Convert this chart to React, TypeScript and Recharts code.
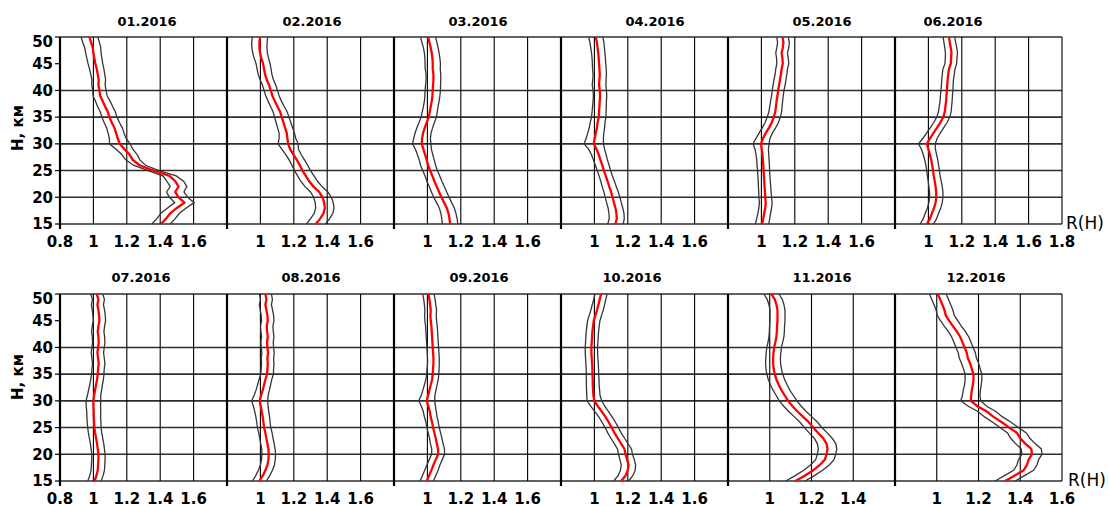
import { LineChart, Line, XAxis, YAxis, CartesianGrid, ReferenceLine } from "recharts";

// altitude levels, km (top to bottom)
const HEIGHTS = [
  50, 49, 48, 47, 46, 45, 44, 43, 42, 41, 40, 39, 38, 37, 36, 35, 34, 33,
  32, 31, 30, 29, 28, 27, 26, 25, 24, 23, 22, 21, 20, 19, 18, 17, 16, 15,
];
const MONTHS = [
  "01.2016", "02.2016", "03.2016", "04.2016", "05.2016", "06.2016",
  "07.2016", "08.2016", "09.2016", "10.2016", "11.2016", "12.2016",
];
const H_TICKS = [15, 20, 25, 30, 35, 40, 45, 50];
const R_TICKS_WIDE = [0.8, 1, 1.2, 1.4, 1.6, 1.8];
const R_TICKS_NARROW = [0.8, 1, 1.2, 1.4, 1.6];

// monthly mean R(H), 50 km -> 15 km
const m01 = [0.976, 0.986, 0.996, 1.0, 1.006, 1.012, 1.02, 1.026, 1.032, 1.03, 1.036, 1.04, 1.056, 1.07, 1.086, 1.096, 1.11, 1.126, 1.136, 1.146, 1.158, 1.186, 1.216, 1.236, 1.276, 1.36, 1.456, 1.49, 1.51, 1.49, 1.51, 1.545, 1.5, 1.46, 1.435, 1.405];
const m02 = [0.998, 0.994, 0.994, 0.998, 1.006, 1.016, 1.022, 1.028, 1.038, 1.052, 1.062, 1.072, 1.086, 1.102, 1.118, 1.128, 1.138, 1.148, 1.158, 1.162, 1.166, 1.178, 1.198, 1.218, 1.236, 1.252, 1.272, 1.292, 1.318, 1.352, 1.372, 1.382, 1.386, 1.378, 1.358, 1.332];
const m03 = [1.004, 1.012, 1.02, 1.026, 1.03, 1.032, 1.032, 1.036, 1.036, 1.034, 1.032, 1.03, 1.026, 1.02, 1.014, 1.008, 0.996, 0.984, 0.974, 0.968, 0.966, 0.976, 0.986, 0.996, 1.004, 1.016, 1.03, 1.042, 1.056, 1.07, 1.084, 1.1, 1.116, 1.126, 1.132, 1.136];
const m04 = [1.008, 1.015, 1.019, 1.023, 1.026, 1.028, 1.03, 1.032, 1.03, 1.028, 1.032, 1.034, 1.032, 1.03, 1.028, 1.026, 1.019, 1.015, 1.008, 1.002, 0.996, 1.013, 1.026, 1.036, 1.047, 1.057, 1.068, 1.079, 1.089, 1.1, 1.109, 1.117, 1.126, 1.132, 1.134, 1.126];
const m05 = [1.126, 1.132, 1.128, 1.121, 1.126, 1.128, 1.121, 1.117, 1.111, 1.106, 1.1, 1.096, 1.091, 1.087, 1.083, 1.074, 1.062, 1.045, 1.026, 1.009, 0.998, 1.002, 1.006, 1.009, 1.011, 1.013, 1.015, 1.017, 1.019, 1.021, 1.023, 1.026, 1.023, 1.017, 1.011, 1.004];
const m06 = [1.123, 1.128, 1.134, 1.138, 1.136, 1.134, 1.123, 1.119, 1.115, 1.113, 1.111, 1.108, 1.106, 1.102, 1.098, 1.089, 1.072, 1.051, 1.03, 1.009, 0.991, 1.0, 1.009, 1.017, 1.023, 1.028, 1.032, 1.038, 1.043, 1.047, 1.047, 1.043, 1.034, 1.021, 1.009, 0.991];
const m07 = [1.02, 1.03, 1.024, 1.03, 1.034, 1.036, 1.03, 1.026, 1.03, 1.032, 1.028, 1.024, 1.028, 1.032, 1.028, 1.026, 1.022, 1.016, 1.01, 1.004, 1.0, 1.0, 1.002, 1.002, 1.004, 1.006, 1.01, 1.016, 1.022, 1.026, 1.03, 1.03, 1.028, 1.026, 1.018, 1.006];
const m08 = [1.03, 1.036, 1.03, 1.036, 1.042, 1.044, 1.038, 1.04, 1.044, 1.04, 1.042, 1.046, 1.042, 1.044, 1.042, 1.04, 1.03, 1.022, 1.014, 1.004, 0.996, 1.002, 1.008, 1.014, 1.018, 1.022, 1.03, 1.036, 1.042, 1.048, 1.05, 1.048, 1.042, 1.03, 1.014, 0.994];
const m09 = [1.006, 1.012, 1.016, 1.02, 1.018, 1.02, 1.024, 1.026, 1.028, 1.03, 1.032, 1.034, 1.036, 1.036, 1.034, 1.032, 1.028, 1.02, 1.012, 1.004, 0.996, 1.006, 1.014, 1.02, 1.028, 1.034, 1.042, 1.05, 1.056, 1.064, 1.064, 1.05, 1.036, 1.024, 1.01, 0.996];
const m10 = [1.04, 1.032, 1.024, 1.016, 1.006, 0.996, 0.992, 0.988, 0.986, 0.984, 0.982, 0.982, 0.984, 0.986, 0.988, 0.988, 0.99, 0.99, 0.992, 0.994, 1.0, 1.02, 1.044, 1.066, 1.086, 1.104, 1.12, 1.14, 1.16, 1.18, 1.186, 1.196, 1.204, 1.2, 1.186, 1.16];
const m11 = [1.008, 1.024, 1.032, 1.037, 1.037, 1.037, 1.035, 1.034, 1.032, 1.027, 1.021, 1.018, 1.016, 1.016, 1.019, 1.024, 1.032, 1.043, 1.056, 1.072, 1.088, 1.109, 1.133, 1.16, 1.187, 1.208, 1.232, 1.256, 1.272, 1.277, 1.272, 1.264, 1.24, 1.208, 1.168, 1.123];
const m12 = [1.005, 1.016, 1.027, 1.037, 1.043, 1.059, 1.077, 1.096, 1.112, 1.123, 1.133, 1.144, 1.149, 1.16, 1.168, 1.176, 1.176, 1.173, 1.168, 1.165, 1.163, 1.195, 1.24, 1.272, 1.312, 1.347, 1.384, 1.4, 1.424, 1.453, 1.456, 1.44, 1.432, 1.416, 1.372, 1.328];

// half-width of the confidence band, 50 km -> 15 km
const s01 = [0.05, 0.05, 0.048, 0.046, 0.045, 0.044, 0.043, 0.042, 0.041, 0.04, 0.04, 0.042, 0.044, 0.045, 0.045, 0.045, 0.046, 0.047, 0.048, 0.05, 0.062, 0.05, 0.046, 0.042, 0.036, 0.032, 0.04, 0.05, 0.05, 0.052, 0.055, 0.058, 0.056, 0.055, 0.055, 0.055];
const s02 = [0.046, 0.046, 0.045, 0.044, 0.043, 0.042, 0.042, 0.041, 0.04, 0.04, 0.04, 0.04, 0.04, 0.041, 0.042, 0.043, 0.044, 0.045, 0.046, 0.05, 0.06, 0.05, 0.046, 0.046, 0.047, 0.048, 0.049, 0.05, 0.051, 0.052, 0.053, 0.054, 0.055, 0.056, 0.057, 0.057];
const s03 = [0.045, 0.045, 0.044, 0.044, 0.045, 0.046, 0.045, 0.044, 0.044, 0.045, 0.046, 0.045, 0.044, 0.044, 0.045, 0.046, 0.046, 0.047, 0.048, 0.05, 0.055, 0.048, 0.046, 0.045, 0.045, 0.044, 0.044, 0.045, 0.045, 0.046, 0.046, 0.045, 0.045, 0.045, 0.046, 0.046];
const s04 = [0.042, 0.042, 0.041, 0.04, 0.04, 0.04, 0.041, 0.04, 0.04, 0.041, 0.04, 0.04, 0.04, 0.041, 0.042, 0.043, 0.044, 0.046, 0.048, 0.052, 0.058, 0.048, 0.044, 0.042, 0.041, 0.04, 0.04, 0.041, 0.042, 0.043, 0.044, 0.044, 0.044, 0.045, 0.045, 0.046];
const s05 = [0.035, 0.035, 0.036, 0.035, 0.035, 0.036, 0.035, 0.035, 0.036, 0.036, 0.035, 0.035, 0.036, 0.037, 0.038, 0.039, 0.04, 0.04, 0.04, 0.042, 0.048, 0.04, 0.038, 0.037, 0.037, 0.036, 0.036, 0.036, 0.037, 0.037, 0.038, 0.038, 0.038, 0.038, 0.039, 0.04];
const s06 = [0.035, 0.035, 0.036, 0.036, 0.035, 0.035, 0.036, 0.036, 0.035, 0.035, 0.036, 0.036, 0.036, 0.037, 0.038, 0.039, 0.04, 0.04, 0.041, 0.043, 0.05, 0.042, 0.04, 0.039, 0.038, 0.038, 0.038, 0.039, 0.04, 0.04, 0.04, 0.04, 0.04, 0.04, 0.04, 0.04];
const s07 = [0.036, 0.036, 0.036, 0.037, 0.037, 0.037, 0.037, 0.037, 0.037, 0.037, 0.037, 0.037, 0.037, 0.037, 0.037, 0.037, 0.038, 0.038, 0.039, 0.04, 0.044, 0.043, 0.042, 0.041, 0.041, 0.04, 0.04, 0.04, 0.04, 0.04, 0.04, 0.04, 0.04, 0.04, 0.04, 0.04];
const s08 = [0.036, 0.036, 0.036, 0.037, 0.037, 0.037, 0.037, 0.037, 0.037, 0.037, 0.037, 0.037, 0.037, 0.037, 0.037, 0.038, 0.038, 0.039, 0.04, 0.042, 0.048, 0.044, 0.042, 0.041, 0.04, 0.04, 0.04, 0.04, 0.04, 0.04, 0.041, 0.041, 0.042, 0.042, 0.042, 0.042];
const s09 = [0.034, 0.034, 0.034, 0.035, 0.035, 0.035, 0.035, 0.035, 0.035, 0.035, 0.035, 0.035, 0.035, 0.035, 0.036, 0.036, 0.037, 0.038, 0.039, 0.041, 0.048, 0.042, 0.039, 0.038, 0.037, 0.037, 0.037, 0.037, 0.038, 0.038, 0.039, 0.039, 0.039, 0.04, 0.04, 0.04];
const s10 = [0.036, 0.036, 0.037, 0.037, 0.037, 0.037, 0.037, 0.037, 0.037, 0.037, 0.037, 0.037, 0.037, 0.037, 0.037, 0.037, 0.038, 0.038, 0.039, 0.04, 0.044, 0.042, 0.041, 0.04, 0.04, 0.04, 0.04, 0.041, 0.041, 0.042, 0.042, 0.043, 0.043, 0.044, 0.044, 0.045];
const s11 = [0.036, 0.036, 0.036, 0.036, 0.036, 0.036, 0.036, 0.036, 0.036, 0.035, 0.035, 0.035, 0.035, 0.036, 0.037, 0.038, 0.039, 0.04, 0.04, 0.041, 0.042, 0.042, 0.042, 0.042, 0.042, 0.042, 0.043, 0.043, 0.044, 0.044, 0.044, 0.044, 0.045, 0.045, 0.046, 0.046];
const s12 = [0.04, 0.04, 0.04, 0.04, 0.041, 0.041, 0.041, 0.041, 0.041, 0.041, 0.041, 0.041, 0.041, 0.041, 0.04, 0.04, 0.04, 0.04, 0.041, 0.042, 0.048, 0.044, 0.043, 0.043, 0.044, 0.044, 0.045, 0.046, 0.047, 0.048, 0.048, 0.048, 0.048, 0.048, 0.048, 0.048];

const MEANS = [m01, m02, m03, m04, m05, m06, m07, m08, m09, m10, m11, m12];
const SPREADS = [s01, s02, s03, s04, s05, s06, s07, s08, s09, s10, s11, s12];
// upper end of the R axis per panel (the last two months use a shorter range)
const R_MAX = [1.8, 1.8, 1.8, 1.8, 1.8, 1.8, 1.8, 1.8, 1.8, 1.8, 1.6, 1.6];
// which R tick labels are printed under each panel
const R_LABELS = [
  [0.8, 1, 1.2, 1.4, 1.6],
  [1, 1.2, 1.4, 1.6],
  [1, 1.2, 1.4, 1.6],
  [1, 1.2, 1.4, 1.6],
  [1, 1.2, 1.4, 1.6],
  [1, 1.2, 1.4, 1.6, 1.8],
  [0.8, 1, 1.2, 1.4, 1.6],
  [1, 1.2, 1.4, 1.6],
  [1, 1.2, 1.4, 1.6],
  [1, 1.2, 1.4, 1.6],
  [1, 1.2, 1.4],
  [1, 1.2, 1.4, 1.6],
];

// layout
const X0 = 59.5;
const PW = 167;
const PH = 187;
const ROW_TOP = [36.5, 293.5];
const MT = 4;
const MR = 18;
const XH = 32;
const TITLE_X = [147, 312, 478, 655, 822, 953, 141, 311, 479, 632, 822, 976];
const TITLE_Y = [22, 278];
const TICK_FONT = "'DejaVu Sans', Verdana, sans-serif";

function RTick(props: any) {
  const { x, y, payload, labels } = props;
  const v = payload.value;
  return (
    <g>
      {v === 0.8 && (
        <line x1={x} x2={x} y1={y} y2={y + 5} stroke="#000" strokeWidth={2.2} />
      )}
      {labels.includes(v) && (
        <text
          x={x}
          y={y + 23}
          textAnchor="middle"
          fill="#000"
          fontFamily={TICK_FONT}
          fontSize={15}
          fontWeight={700}
        >
          {String(v)}
        </text>
      )}
    </g>
  );
}

function Panel({ idx }: { idx: number }) {
  const row = Math.floor(idx / 6);
  const col = idx % 6;
  const first = col === 0;
  const yW = first ? 60 : 0;
  const ml = first ? 0 : 3;
  const mean = MEANS[idx];
  const spread = SPREADS[idx];
  const data = HEIGHTS.map((h, i) => ({
    h,
    mean: mean[i],
    lo: mean[i] - spread[i],
    hi: mean[i] + spread[i],
  }));
  const rMax = R_MAX[idx];
  const ticks = rMax > 1.7 ? R_TICKS_WIDE : R_TICKS_NARROW;

  return (
    <div
      style={{
        position: "absolute",
        left: X0 + col * PW - yW - ml,
        top: ROW_TOP[row] - MT,
      }}
    >
      <LineChart
        width={yW + ml + PW + MR}
        height={MT + PH + XH}
        data={data}
        layout="vertical"
        margin={{ top: MT, right: MR, left: ml, bottom: 0 }}
      >
        <CartesianGrid vertical={false} stroke="#2e2e2e" strokeWidth={1.6} />
        <CartesianGrid horizontal={false} stroke="#000" strokeWidth={1.1} />
        <XAxis
          type="number"
          domain={[0.8, rMax]}
          ticks={ticks}
          interval={0}
          axisLine={false}
          tickLine={false}
          tickSize={0}
          tickMargin={0}
          height={XH}
          tick={(p: any) => <RTick {...p} labels={R_LABELS[idx]} />}
        />
        <YAxis
          type="number"
          dataKey="h"
          domain={[15, 50]}
          ticks={H_TICKS}
          reversed
          hide={!first}
          width={yW}
          axisLine={{ stroke: "#000", strokeWidth: 2.2 }}
          tickLine={{ stroke: "#000", strokeWidth: 1.2 }}
          tickSize={5}
          tickMargin={2}
          tick={{
            fill: "#000",
            fontSize: 15,
            fontWeight: 700,
            fontFamily: TICK_FONT,
          }}
        />
        {!first && <ReferenceLine x={0.8} stroke="#000" strokeWidth={2.2} />}
        <Line
          dataKey="lo"
          stroke="#353535"
          strokeWidth={1.3}
          dot={false}
          isAnimationActive={false}
        />
        <Line
          dataKey="hi"
          stroke="#353535"
          strokeWidth={1.3}
          dot={false}
          isAnimationActive={false}
        />
        <Line
          dataKey="mean"
          stroke="#ff0000"
          strokeWidth={2.3}
          dot={false}
          isAnimationActive={false}
        />
      </LineChart>
    </div>
  );
}

export default function App() {
  return (
    <div
      style={{
        position: "absolute",
        left: 0,
        top: 0,
        width: 1109,
        height: 506,
        background: "#fff",
        overflow: "hidden",
        fontFamily: TICK_FONT,
        color: "#000",
      }}
    >
      {MONTHS.map((_, i) => (
        <Panel key={i} idx={i} />
      ))}
      {MONTHS.map((m, i) => (
        <div
          key={m}
          style={{
            position: "absolute",
            left: TITLE_X[i] - 50,
            top: TITLE_Y[Math.floor(i / 6)] - 9,
            width: 100,
            lineHeight: "18px",
            textAlign: "center",
            fontWeight: 700,
            fontSize: 13,
          }}
        >
          {m}
        </div>
      ))}
      {[128, 377].map((cy) => (
        <div
          key={cy}
          style={{
            position: "absolute",
            left: 18 - 35,
            top: cy - 10,
            width: 70,
            lineHeight: "20px",
            textAlign: "center",
            transform: "rotate(-90deg)",
            fontWeight: 700,
            fontSize: 15,
          }}
        >
          H, км
        </div>
      ))}
      {[
        [1066, 223],
        [1068, 480],
      ].map(([x, cy]) => (
        <div
          key={cy}
          style={{
            position: "absolute",
            left: x,
            top: cy - 10,
            lineHeight: "20px",
            fontSize: 17,
            whiteSpace: "nowrap",
          }}
        >
          R(H)
        </div>
      ))}
    </div>
  );
}
